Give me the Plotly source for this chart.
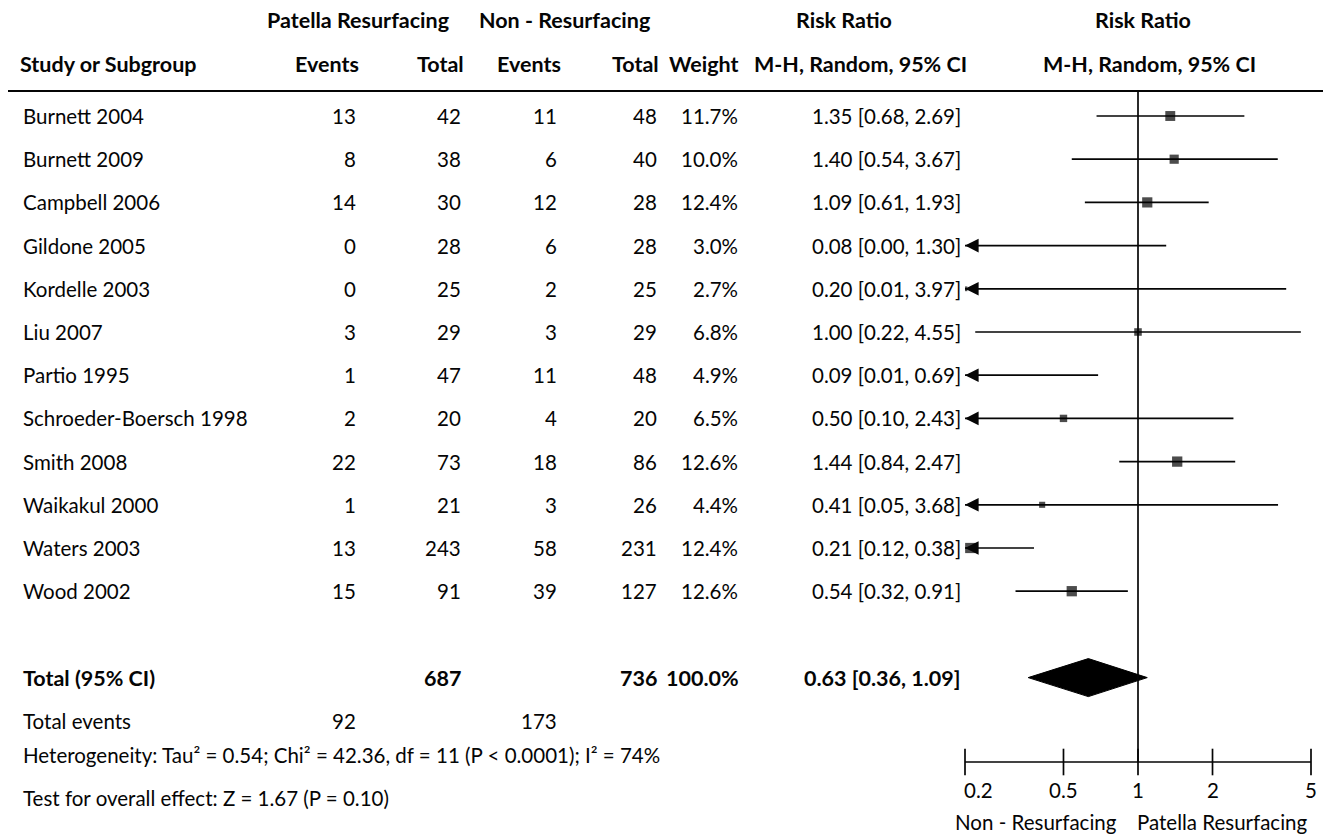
import math
import plotly.graph_objects as go

# ---------------- data ----------------
studies = ["Burnett 2004", "Burnett 2009", "Campbell 2006", "Gildone 2005", "Kordelle 2003",
           "Liu 2007", "Partio 1995", "Schroeder-Boersch 1998", "Smith 2008", "Waikakul 2000",
           "Waters 2003", "Wood 2002"]
res_events = [13, 8, 14, 0, 0, 3, 1, 2, 22, 1, 13, 15]
res_total = [42, 38, 30, 28, 25, 29, 47, 20, 73, 21, 243, 91]
non_events = [11, 6, 12, 6, 2, 3, 11, 4, 18, 3, 58, 39]
non_total = [48, 40, 28, 28, 25, 29, 48, 20, 86, 26, 231, 127]
weights = [11.7, 10.0, 12.4, 3.0, 2.7, 6.8, 4.9, 6.5, 12.6, 4.4, 12.4, 12.6]
rr = [1.35, 1.40, 1.09, 0.08, 0.20, 1.00, 0.09, 0.50, 1.44, 0.41, 0.21, 0.54]
ci_low = [0.68, 0.54, 0.61, 0.00, 0.01, 0.22, 0.01, 0.10, 0.84, 0.05, 0.12, 0.32]
ci_high = [2.69, 3.67, 1.93, 1.30, 3.97, 4.55, 0.69, 2.43, 2.47, 3.68, 0.38, 0.91]

total_res = 687
total_non = 736
total_weight = "100.0%"
total_rr, total_lo, total_hi = 0.63, 0.36, 1.09
total_events_res = 92
total_events_non = 173
heterogeneity = "Heterogeneity: Tau² = 0.54; Chi² = 42.36, df = 11 (P < 0.0001); I² = 74%"
overall = "Test for overall effect: Z = 1.67 (P = 0.10)"
tick_vals = [0.2, 0.5, 1, 2, 5]
tick_text = ["0.2", "0.5", "1", "2", "5"]
favours_left = "Non - Resurfacing"
favours_right = "Patella Resurfacing"

# ---------------- layout helpers ----------------
PAGE_W, PAGE_H = 1331, 837
OFF = 8                            # default body margin of the html page
W, H = PAGE_W - OFF, PAGE_H - OFF
ROW0, ROWH = 116.0, 43.2          # page-pixel centre of first study row, row height
XMIN, XMAX = 0.2, 5.0
FONT = "Lato, 'Open Sans', sans-serif"
FS = 20.5
FSB = 21.5
INK = "#050505"


def px(xp):
    return (xp - OFF) / W


def row_of(yp):
    return (yp - ROW0) / ROWH


n = len(studies)
rows = list(range(n))
total_row = n + 1
events_row = n + 2
het_row = row_of(755)
test_row = row_of(798)
axis_row = row_of(762)
ticklab_row = row_of(790)
title_row = row_of(822)
hdr1_row = row_of(20)
hdr2_row = row_of(64)
top_row = row_of(91)

fig = go.Figure()
ann = []


def text(x, y, s, anchor="left", bold=False):
    ann.append(dict(x=px(x), y=y, xref="paper", yref="y", text=("<b>%s</b>" % s) if bold else s,
                    showarrow=False, xanchor=anchor, yanchor="middle",
                    font=dict(family=FONT, size=FSB if bold else FS, color=INK)))


# headers
text(358, hdr1_row, "Patella Resurfacing", "center", True)
text(564, hdr1_row, "Non - Resurfacing", "center", True)
text(844, hdr1_row, "Risk Ratio", "center", True)
text(1143, hdr1_row, "Risk Ratio", "center", True)
text(18, hdr2_row, "Study or Subgroup", "left", True)
text(361, hdr2_row, "Events", "right", True)
text(466, hdr2_row, "Total", "right", True)
text(563, hdr2_row, "Events", "right", True)
text(661, hdr2_row, "Total", "right", True)
text(741, hdr2_row, "Weight", "right", True)
text(969, hdr2_row, "M-H, Random, 95% CI", "right", True)
text(1149, hdr2_row, "M-H, Random, 95% CI", "center", True)

# study rows
for i in rows:
    text(21, i, studies[i])
    text(358, i, str(res_events[i]), "right")
    text(463, i, str(res_total[i]), "right")
    text(559, i, str(non_events[i]), "right")
    text(659, i, str(non_total[i]), "right")
    text(740, i, "%.1f%%" % weights[i], "right")
    text(963, i, "%.2f [%.2f, %.2f]" % (rr[i], ci_low[i], ci_high[i]), "right")

# totals
text(21, total_row, "Total (95% CI)", "left", True)
text(463, total_row, str(total_res), "right", True)
text(659, total_row, str(total_non), "right", True)
text(741, total_row, total_weight, "right", True)
text(963, total_row, "%.2f [%.2f, %.2f]" % (total_rr, total_lo, total_hi), "right", True)
text(21, events_row, "Total events")
text(358, events_row, str(total_events_res), "right")
text(559, events_row, str(total_events_non), "right")
text(21, het_row, heterogeneity)
text(21, test_row, overall)

# ---------------- forest plot ----------------
# CI lines
lx, ly = [], []
for i in rows:
    lx += [max(ci_low[i], XMIN), min(ci_high[i], XMAX), None]
    ly += [i, i, None]
fig.add_trace(go.Scatter(x=lx, y=ly, mode="lines", line=dict(color=INK, width=1.7),
                         hoverinfo="skip", showlegend=False))

# arrows for CIs truncated at left
for i in rows:
    if ci_low[i] < XMIN:
        ann.append(dict(x=math.log10(XMIN), y=i, xref="x", yref="y",
                        ax=math.log10(XMIN) + 0.04, ay=i, axref="x", ayref="y",
                        text="", showarrow=True, arrowhead=2, arrowsize=1.6,
                        arrowwidth=1.7, arrowcolor=INK, standoff=0, startstandoff=0))

# study squares (area ~ weight)
fig.add_trace(go.Scatter(x=rr, y=rows, mode="markers",
                         marker=dict(symbol="square", color="#000000",
                                     size=[2.9 * math.sqrt(w) for w in weights],
                                     line=dict(width=0)),
                         hoverinfo="skip", showlegend=False, cliponaxis=True))

# pooled diamond
dh = 0.44
fig.add_trace(go.Scatter(x=[total_lo, total_rr, total_hi, total_rr, total_lo],
                         y=[total_row, total_row - dh, total_row, total_row + dh, total_row],
                         mode="lines", fill="toself", fillcolor="#000000",
                         line=dict(color="#000000", width=1), hoverinfo="skip", showlegend=False))

# line of no effect
fig.add_trace(go.Scatter(x=[1, 1], y=[top_row, axis_row], mode="lines",
                         line=dict(color=INK, width=1.7), hoverinfo="skip",
                         showlegend=False, cliponaxis=False))

# axis line and ticks
fig.add_trace(go.Scatter(x=[XMIN, XMAX], y=[axis_row, axis_row], mode="lines",
                         line=dict(color=INK, width=1.7), hoverinfo="skip",
                         showlegend=False, cliponaxis=False))
fig.add_trace(go.Scatter(x=tick_vals, y=[axis_row] * len(tick_vals), mode="markers",
                         marker=dict(symbol="line-ns", size=19, color=INK,
                                     line=dict(color=INK, width=1.7)),
                         hoverinfo="skip", showlegend=False, cliponaxis=False))
for k, (v, t) in enumerate(zip(tick_vals, tick_text)):
    ann.append(dict(x=math.log10(v), y=ticklab_row, xref="x", yref="y", text=t,
                    showarrow=False, xanchor="left" if k == 0 else "center",
                    xshift=-3 if k == 0 else 0, yanchor="middle",
                    font=dict(family=FONT, size=FS, color=INK)))
ann.append(dict(x=0, y=title_row, xref="x", yref="y", text=favours_left, showarrow=False,
                xanchor="right", xshift=-19, yanchor="middle",
                font=dict(family=FONT, size=FS, color=INK)))
ann.append(dict(x=0, y=title_row, xref="x", yref="y", text=favours_right, showarrow=False,
                xanchor="left", xshift=-3, yanchor="middle",
                font=dict(family=FONT, size=FS, color=INK)))

# header rule
rule_y = 1 - (91 - OFF) / H
shapes = [dict(type="line", xref="paper", yref="paper", x0=0, x1=1,
               y0=rule_y, y1=rule_y, line=dict(color=INK, width=2))]

fig.update_layout(
    width=W, height=H, margin=dict(l=0, r=0, t=0, b=0),
    paper_bgcolor="white", plot_bgcolor="rgba(0,0,0,0)",
    xaxis=dict(type="log", domain=[px(965), px(1311)],
               range=[math.log10(XMIN), math.log10(XMAX)], visible=False, fixedrange=True),
    yaxis=dict(domain=[0, 1], range=[row_of(PAGE_H), row_of(OFF)], visible=False,
               fixedrange=True),
    annotations=ann, shapes=shapes, showlegend=False,
)

fig.write_html("out.html")
